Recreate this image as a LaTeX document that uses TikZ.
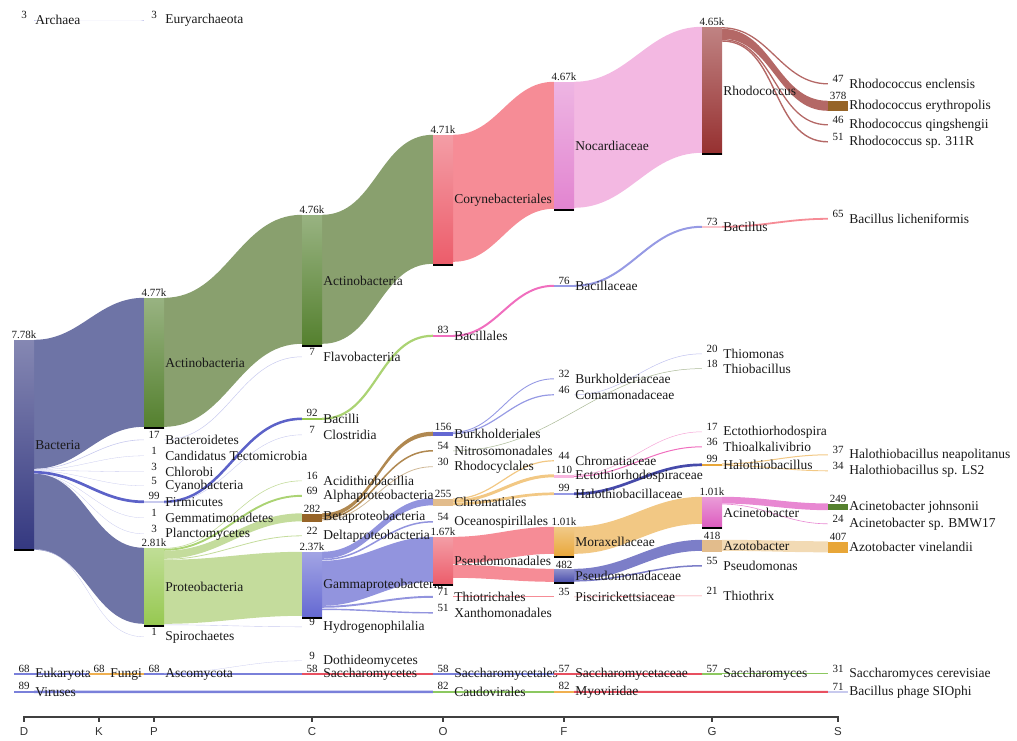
\documentclass[tikz,border=0pt]{standalone}
\usepackage{fontspec}
\setmainfont{Liberation Serif}
\newfontfamily\axisfont{Liberation Sans}

\definecolor{bactbar}{RGB}{52,56,128}
\definecolor{bactflow}{RGB}{110,116,166}
\definecolor{actbar}{RGB}{84,128,46}
\definecolor{actflow}{RGB}{137,160,110}
\definecolor{corybar}{RGB}{236,92,106}
\definecolor{coryflow}{RGB}{246,140,150}
\definecolor{nocbar}{RGB}{226,132,208}
\definecolor{nocflow}{RGB}{243,184,226}
\definecolor{rhobar}{RGB}{150,48,48}
\definecolor{rhoflow}{RGB}{180,104,102}
\definecolor{probar}{RGB}{150,200,80}
\definecolor{proflow}{RGB}{196,220,156}
\definecolor{gambar}{RGB}{100,104,210}
\definecolor{gamflow}{RGB}{146,148,222}
\definecolor{betabar}{RGB}{150,100,40}
\definecolor{betaflow}{RGB}{176,136,80}
\definecolor{morbar}{RGB}{232,166,56}
\definecolor{morflow}{RGB}{242,200,132}
\definecolor{psebar}{RGB}{70,74,170}
\definecolor{pseflow}{RGB}{124,126,200}
\definecolor{acibar}{RGB}{220,90,190}
\definecolor{aciflow}{RGB}{232,136,210}
\definecolor{azobar}{RGB}{226,188,140}
\definecolor{azoflow}{RGB}{242,218,180}
\definecolor{faint}{RGB}{200,202,238}
\definecolor{firmblue}{RGB}{92,98,200}
\definecolor{lav}{RGB}{150,154,228}
\definecolor{pinkline}{RGB}{240,110,190}
\definecolor{olive}{RGB}{170,185,150}
\definecolor{rowblue}{RGB}{122,128,218}
\definecolor{roworange}{RGB}{240,176,80}
\definecolor{rowred}{RGB}{232,80,96}
\definecolor{rowgreen}{RGB}{140,200,96}

\pgfdeclarelayer{flows}
\pgfsetlayers{flows,main}

% band between two nodes: colour, from, offset, to, offset, width
\newcommand{\flowband}[6]{%
  \fill[#1] ([yshift=-#3pt]#2.north east) to[out=0,in=180] ([yshift=-#5pt]#4.north west)
    -- ([yshift={-(#5+#6)*1pt}]#4.north west) to[out=180,in=0] ([yshift={-(#3+#6)*1pt}]#2.north east) -- cycle;}
\newcommand{\flowline}[6]{%
  \draw[#1, line width=#6pt] ([yshift=-#3pt]#2.north east) to[out=0,in=180] ([yshift=-#5pt]#4.north west);}

\tikzset{
  taxbar/.style={rectangle, top color=#1!60!white, bottom color=#1, minimum width=20pt, inner sep=0pt,
    path picture={\draw[black, line width=3pt] (path picture bounding box.south west) -- (path picture bounding box.south east);}},
  taxblock/.style={rectangle, fill=#1, minimum width=20pt, inner sep=0pt},
  leaf/.style={rectangle, fill=#1, minimum width=20pt, minimum height=1pt, inner sep=0pt},
  leaf/.default=none,
  tname/.style={font=\fontsize{13.5}{15}\selectfont, inner sep=1pt, text=black!90},
  tval/.style={font=\fontsize{11}{12}\selectfont, inner sep=0.5pt, text=black!90},
  axlab/.style={font=\axisfont\fontsize{11.5}{13}\selectfont, inner sep=0pt, text=black!80}
}

\begin{document}
\begin{tikzpicture}[x=1pt,y=-1pt]

\useasboundingbox (0,0) rectangle (1017,740);

% domain
\node[leaf, label={[tname]right:Archaea}, label={[tval]above:3}] (arch) at (24,20) {};
\node[taxbar=bactbar, minimum height=210pt, label={[tname]right:Bacteria}, label={[tval]above:7.78k}] (bact) at (24,445) {};
\node[leaf=rowblue, minimum height=2pt, label={[tname]right:Eukaryota}, label={[tval]above:68}] (euk) at (24,674) {};
\node[leaf=rowblue, minimum height=2.4pt, label={[tname]right:Viruses}, label={[tval]above:89}] (vir) at (24,692) {};

% kingdom
\node[leaf=roworange, minimum height=2pt, label={[tname]right:Fungi}, label={[tval]above:68}] (fungi) at (99,674) {};

% phylum
\node[leaf, label={[tname]right:Euryarchaeota}, label={[tval]above:3}] (eury) at (154,20) {};
\node[taxbar=actbar, minimum height=130pt, label={[tname]right:Actinobacteria}, label={[tval]above:4.77k}] (actP) at (154,363) {};
\node[leaf, label={[tname]right:Bacteroidetes}, label={[tval]above:17}] (bacteroid) at (154,440) {};
\node[leaf, label={[tname]right:Candidatus Tectomicrobia}, label={[tval]above:1}] (candid) at (154,456) {};
\node[leaf, label={[tname]right:Chlorobi}, label={[tval]above:3}] (chlorobi) at (154,472) {};
\node[leaf, label={[tname]right:Cyanobacteria}, label={[tval]above:5}] (cyano) at (154,486) {};
\node[leaf=faint, minimum height=2.7pt, label={[tname]right:Firmicutes}, label={[tval]above:99}] (firm) at (154,502) {};
\node[leaf, label={[tname]right:Gemmatimonadetes}, label={[tval]above:1}] (gemma) at (154,518) {};
\node[leaf, label={[tname]right:Planctomycetes}, label={[tval]above:3}] (plancto) at (154,534) {};
\node[taxbar=probar, minimum height=78pt, label={[tname]right:Proteobacteria}, label={[tval]above:2.81k}] (proteo) at (154,587) {};
\node[leaf, label={[tname]right:Spirochaetes}, label={[tval]above:1}] (spiro) at (154,637) {};
\node[leaf=rowblue, minimum height=2pt, label={[tname]right:Ascomycota}, label={[tval]above:68}] (asco) at (154,674) {};

% class
\node[taxbar=actbar, minimum height=131pt, label={[tname]right:Actinobacteria}, label={[tval]above:4.76k}] (actC) at (312,280.5) {};
\node[leaf, label={[tname]right:Flavobacteriia}, label={[tval]above:7}] (flavo) at (312,357) {};
\node[leaf=probar, minimum height=2.5pt, label={[tname]right:Bacilli}, label={[tval]above:92}] (bacilli) at (312,419) {};
\node[leaf, label={[tname]right:Clostridia}, label={[tval]above:7}] (clostr) at (312,435) {};
\node[leaf, label={[tname]right:Acidithiobacillia}, label={[tval]above:16}] (acidi) at (312,481) {};
\node[leaf, minimum height=1.9pt, label={[tname]right:Alphaproteobacteria}, label={[tval]above:69}] (alpha) at (312,496) {};
\node[taxblock=betabar, minimum height=8pt, label={[tname]right:Betaproteobacteria}, label={[tval]above:282}] (beta) at (312,517.5) {};
\node[leaf, label={[tname]right:Deltaproteobacteria}, label={[tval]above:22}] (delta) at (312,536) {};
\node[taxbar=gambar, minimum height=66pt, label={[tname]right:Gammaproteobacteria}, label={[tval]above:2.37k}] (gamma) at (312,585) {};
\node[leaf, label={[tname]right:Hydrogenophilalia}, label={[tval]above:9}] (hydro) at (312,627) {};
\node[leaf, label={[tname]right:Dothideomycetes}, label={[tval]above:9}] (dothi) at (312,661) {};
\node[leaf=rowred, minimum height=1.6pt, label={[tname]right:Saccharomycetes}, label={[tval]above:58}] (sacch) at (312,674) {};

% order
\node[taxbar=corybar, minimum height=130pt, label={[tname]right:Corynebacteriales}, label={[tval]above:4.71k}] (coryne) at (443,200) {};
\node[leaf=pinkline, minimum height=2.2pt, label={[tname]right:Bacillales}, label={[tval]above:83}] (bacillales) at (443,336) {};
\node[taxblock=gambar, minimum height=4.2pt, label={[tname]right:Burkholderiales}, label={[tval]above:156}] (burkh) at (443,434) {};
\node[leaf, minimum height=1.5pt, label={[tname]right:Nitrosomonadales}, label={[tval]above:54}] (nitroso) at (443,451) {};
\node[leaf, label={[tname]right:Rhodocyclales}, label={[tval]above:30}] (rhodocyc) at (443,467) {};
\node[taxblock=azobar, minimum height=7pt, label={[tname]right:Chromatiales}, label={[tval]above:255}] (chromat) at (443,502) {};
\node[leaf, minimum height=1.5pt, label={[tname]right:Oceanospirillales}, label={[tval]above:54}] (oceano) at (443,522) {};
\node[taxbar=corybar, minimum height=48pt, label={[tname]right:Pseudomonadales}, label={[tval]above:1.67k}] (pseudales) at (443,561) {};
\node[leaf, minimum height=1.9pt, label={[tname]right:Thiotrichales}, label={[tval]above:71}] (thiotri) at (443,597) {};
\node[leaf, minimum height=1.4pt, label={[tname]right:Xanthomonadales}, label={[tval]above:51}] (xantho) at (443,613) {};
\node[leaf=rowblue, minimum height=1.6pt, label={[tname]right:Saccharomycetales}, label={[tval]above:58}] (sacchales) at (443,674) {};
\node[leaf=rowgreen, minimum height=2.2pt, label={[tname]right:Caudovirales}, label={[tval]above:82}] (caudo) at (443,692) {};

% family
\node[taxbar=nocbar, minimum height=128pt, label={[tname]right:Nocardiaceae}, label={[tval]above:4.67k}] (nocard) at (564,146) {};
\node[leaf=lav, minimum height=2pt, label={[tname]right:Bacillaceae}, label={[tval]above:76}] (bacillac) at (564,286) {};
\node[leaf, label={[tname]right:Burkholderiaceae}, label={[tval]above:32}] (burkhac) at (564,379) {};
\node[leaf, minimum height=1.2pt, label={[tname]right:Comamonadaceae}, label={[tval]above:46}] (comamon) at (564,395) {};
\node[leaf, minimum height=1.2pt, label={[tname]right:Chromatiaceae}, label={[tval]above:44}] (chromac) at (564,461) {};
\node[leaf=pinkline!50!white, minimum height=3pt, label={[tname]right:Ectothiorhodospiraceae}, label={[tval]above:110}] (ectoac) at (564,476) {};
\node[leaf=lav, minimum height=2.7pt, label={[tname]right:Halothiobacillaceae}, label={[tval]above:99}] (haloac) at (564,494) {};
\node[taxbar=morbar, minimum height=30pt, label={[tname]right:Moraxellaceae}, label={[tval]above:1.01k}] (morax) at (564,542) {};
\node[taxbar=psebar, minimum height=14pt, label={[tname]right:Pseudomonadaceae}, label={[tval]above:482}] (pseudac) at (564,576) {};
\node[leaf, label={[tname]right:Piscirickettsiaceae}, label={[tval]above:35}] (piscir) at (564,597) {};
\node[leaf=rowred, minimum height=1.6pt, label={[tname]right:Saccharomycetaceae}, label={[tval]above:57}] (sacchac) at (564,674) {};
\node[leaf=roworange, minimum height=2.2pt, label={[tname]right:Myoviridae}, label={[tval]above:82}] (myov) at (564,692) {};

% genus
\node[taxbar=rhobar, minimum height=127pt, label={[tname]right:Rhodococcus}, label={[tval]above:4.65k}] (rhodoc) at (712,90.5) {};
\node[leaf=coryflow!50!white, minimum height=2pt, label={[tname]right:Bacillus}, label={[tval]above:73}] (bacillus) at (712,227) {};
\node[leaf, label={[tname]right:Thiomonas}, label={[tval]above:20}] (thiomon) at (712,354) {};
\node[leaf, label={[tname]right:Thiobacillus}, label={[tval]above:18}] (thiobac) at (712,369) {};
\node[leaf, label={[tname]right:Ectothiorhodospira}, label={[tval]above:17}] (ectoth) at (712,432) {};
\node[leaf, label={[tname]right:Thioalkalivibrio}, label={[tval]above:36}] (thioalk) at (712,447) {};
\node[taxblock=morbar, minimum height=2.7pt, label={[tname]right:Halothiobacillus}, label={[tval]above:99}] (halothio) at (712,465) {};
\node[taxbar=acibar, minimum height=31pt, label={[tname]right:Acinetobacter}, label={[tval]above:1.01k}] (acineto) at (712,512.5) {};
\node[taxblock=azobar, minimum height=12pt, label={[tname]right:Azotobacter}, label={[tval]above:418}] (azoto) at (712,546) {};
\node[leaf, minimum height=1.5pt, label={[tname]right:Pseudomonas}, label={[tval]above:55}] (pseudom) at (712,566) {};
\node[leaf, label={[tname]right:Thiothrix}, label={[tval]above:21}] (thiothrix) at (712,596) {};
\node[leaf=rowgreen, minimum height=1.6pt, label={[tname]right:Saccharomyces}, label={[tval]above:57}] (saccharo) at (712,674) {};

% species
\node[leaf, minimum height=1.3pt, label={[tname]right:Rhodococcus enclensis}, label={[tval]above:47}] (renc) at (838,84) {};
\node[taxblock=betabar, minimum height=10pt, label={[tname]right:Rhodococcus erythropolis}, label={[tval]above:378}] (rery) at (838,106) {};
\node[leaf, minimum height=1.3pt, label={[tname]right:Rhodococcus qingshengii}, label={[tval]above:46}] (rqing) at (838,125) {};
\node[leaf, minimum height=1.4pt, label={[tname]right:Rhodococcus sp. 311R}, label={[tval]above:51}] (r311) at (838,142) {};
\node[leaf, minimum height=1.8pt, label={[tname]right:Bacillus licheniformis}, label={[tval]above:65}] (blich) at (838,219) {};
\node[leaf, label={[tname]right:Halothiobacillus neapolitanus}, label={[tval]above:37}] (hneap) at (838,455) {};
\node[leaf, label={[tname]right:Halothiobacillus sp. LS2}, label={[tval]above:34}] (hls2) at (838,471) {};
\node[taxblock=actbar, minimum height=6.7pt, label={[tname]right:Acinetobacter johnsonii}, label={[tval]above:249}] (ajohn) at (838,507) {};
\node[leaf, label={[tname]right:Acinetobacter sp. BMW17}, label={[tval]above:24}] (abmw) at (838,524) {};
\node[taxblock=morbar, minimum height=11pt, label={[tname]right:Azotobacter vinelandii}, label={[tval]above:407}] (avin) at (838,547) {};
\node[leaf, label={[tname]right:Saccharomyces cerevisiae}, label={[tval]above:31}] (scerev) at (838,674) {};
\node[leaf=faint, minimum height=2pt, label={[tname]right:Bacillus phage SIOphi}, label={[tval]above:71}] (bphage) at (838,692) {};

\begin{pgfonlayer}{flows}
% domain to phylum
\flowline{faint}{arch}{0.5}{eury}{0.5}{0.4}
\flowband{bactflow}{bact}{0}{actP}{0}{129}
\flowline{faint}{bact}{129.5}{bacteroid}{0.5}{0.6}
\flowline{faint}{bact}{130.2}{candid}{0.5}{0.3}
\flowline{faint}{bact}{130.6}{chlorobi}{0.5}{0.3}
\flowline{faint}{bact}{131}{cyano}{0.5}{0.3}
\flowline{firmblue}{bact}{132.5}{firm}{1.35}{2.7}
\flowline{faint}{bact}{134}{gemma}{0.5}{0.3}
\flowline{faint}{bact}{134.3}{plancto}{0.5}{0.3}
\flowband{bactflow}{bact}{134}{proteo}{0}{76}
\flowline{faint}{bact}{209.5}{spiro}{0.5}{0.3}
\flowline{rowblue}{euk}{1}{fungi}{1}{1.8}
\flowline{rowblue}{vir}{1.2}{caudo}{1.1}{2.4}

% phylum to class
\flowline{roworange}{fungi}{1}{asco}{1}{1.8}
\flowband{actflow}{actP}{0}{actC}{0}{129}
\flowline{faint}{bacteroid}{0.5}{flavo}{0.5}{0.5}
\flowline{firmblue}{firm}{1.35}{bacilli}{1.25}{2.5}
\flowline{faint}{firm}{2.5}{clostr}{0.5}{0.4}
\flowline{proflow}{proteo}{0.5}{acidi}{0.5}{0.6}
\flowline{probar!80!white}{proteo}{2}{alpha}{0.95}{1.9}
\flowband{proflow}{proteo}{3}{beta}{0}{8}
\flowline{proflow}{proteo}{11.5}{delta}{0.5}{0.8}
\flowband{proflow}{proteo}{12}{gamma}{0}{64}
\flowline{faint}{proteo}{77}{hydro}{0.5}{0.4}

% class to order
\flowline{rowblue}{asco}{1}{sacch}{0.8}{1.6}
\flowline{faint}{asco}{0.3}{dothi}{0.5}{0.3}
\flowband{actflow}{actC}{0}{coryne}{0}{129}
\flowline{probar!80!white}{bacilli}{1.25}{bacillales}{1.1}{2.2}
\flowband{betaflow}{beta}{0}{burkh}{0}{4.2}
\flowline{betaflow}{beta}{5}{nitroso}{0.75}{1.5}
\flowline{betaflow!60!white}{beta}{6.8}{rhodocyc}{0.4}{0.8}
\flowband{gamflow}{gamma}{0}{chromat}{0}{7}
\flowline{gamflow}{gamma}{7.8}{oceano}{0.75}{1.5}
\flowband{gamflow}{gamma}{9}{pseudales}{0}{45}
\flowline{gamflow}{gamma}{55}{thiotri}{0.95}{1.9}
\flowline{gamflow}{gamma}{57.5}{xantho}{0.7}{1.4}
\flowline{rowred}{sacch}{0.8}{sacchales}{0.8}{1.6}

% order to family
\flowband{coryflow}{coryne}{0}{nocard}{0}{127}
\flowline{pinkline}{bacillales}{1.1}{bacillac}{1}{2}
\flowline{lav}{burkh}{0.5}{burkhac}{0.5}{0.9}
\flowline{lav}{burkh}{1.8}{comamon}{0.6}{1.2}
\flowline{olive}{nitroso}{0.75}{thiobac}{0.3}{0.5}
\flowline{morflow}{chromat}{0.6}{chromac}{0.6}{1.2}
\flowline{morflow}{chromat}{2.7}{ectoac}{1.5}{3}
\flowline{morflow}{chromat}{5.6}{haloac}{1.35}{2.7}
\flowband{coryflow}{pseudales}{0}{morax}{0}{27}
\flowband{coryflow}{pseudales}{28}{pseudac}{0}{13}
\flowline{coryflow}{thiotri}{0.95}{piscir}{0.5}{1}
\flowline{rowblue}{sacchales}{0.8}{sacchac}{0.8}{1.6}
\flowline{rowgreen}{caudo}{1.1}{myov}{1.1}{2.2}

% family to genus
\flowband{nocflow}{nocard}{0}{rhodoc}{0}{126}
\flowline{lav}{bacillac}{1}{bacillus}{1}{2}
\flowline{lav!60!white}{comamon}{0.6}{thiomon}{0.5}{0.5}
\flowline{pinkline!60!white}{ectoac}{0.5}{ectoth}{0.5}{0.5}
\flowline{pinkline}{ectoac}{2}{thioalk}{0.5}{1}
\flowline{psebar}{haloac}{1.35}{halothio}{1.35}{2.7}
\flowband{morflow}{morax}{0}{acineto}{0}{27}
\flowband{pseflow}{pseudac}{0}{azoto}{0}{11}
\flowline{pseflow}{pseudac}{12}{pseudom}{0.75}{1.5}
\flowline{coryflow}{piscir}{0.5}{thiothrix}{0.5}{0.6}
\flowline{rowred}{sacchac}{0.8}{saccharo}{0.8}{1.6}
\flowline{rowred}{myov}{1.1}{bphage}{1}{2}

% genus to species
\flowline{rhoflow}{rhodoc}{1}{renc}{0.65}{1.3}
\flowband{rhoflow}{rhodoc}{2}{rery}{0}{10}
\flowline{rhoflow}{rhodoc}{12.8}{rqing}{0.65}{1.3}
\flowline{rhoflow}{rhodoc}{14.2}{r311}{0.7}{1.4}
\flowline{coryflow}{bacillus}{1}{blich}{0.9}{1.8}
\flowline{morflow}{halothio}{0.5}{hneap}{0.5}{1}
\flowline{morflow}{halothio}{1.8}{hls2}{0.5}{0.9}
\flowband{aciflow}{acineto}{0}{ajohn}{0}{6.7}
\flowline{aciflow}{acineto}{7.3}{abmw}{0.5}{0.6}
\flowband{azoflow}{azoto}{0}{avin}{0}{11}
\flowline{rowgreen}{saccharo}{0.8}{scerev}{0.5}{1}
\end{pgfonlayer}

% rank axis
\draw[black!75, line width=1.2pt] (24,717) -- (838,717);
\foreach \x/\r in {24/D,99/K,154/P,312/C,443/O,564/F,712/G,838/S}{
  \draw[black!75, line width=1.2pt] (\x,716) -- (\x,722);
  \node[axlab] (ax\r) at (\x,732) {\r};
}

\end{tikzpicture}
\end{document}
